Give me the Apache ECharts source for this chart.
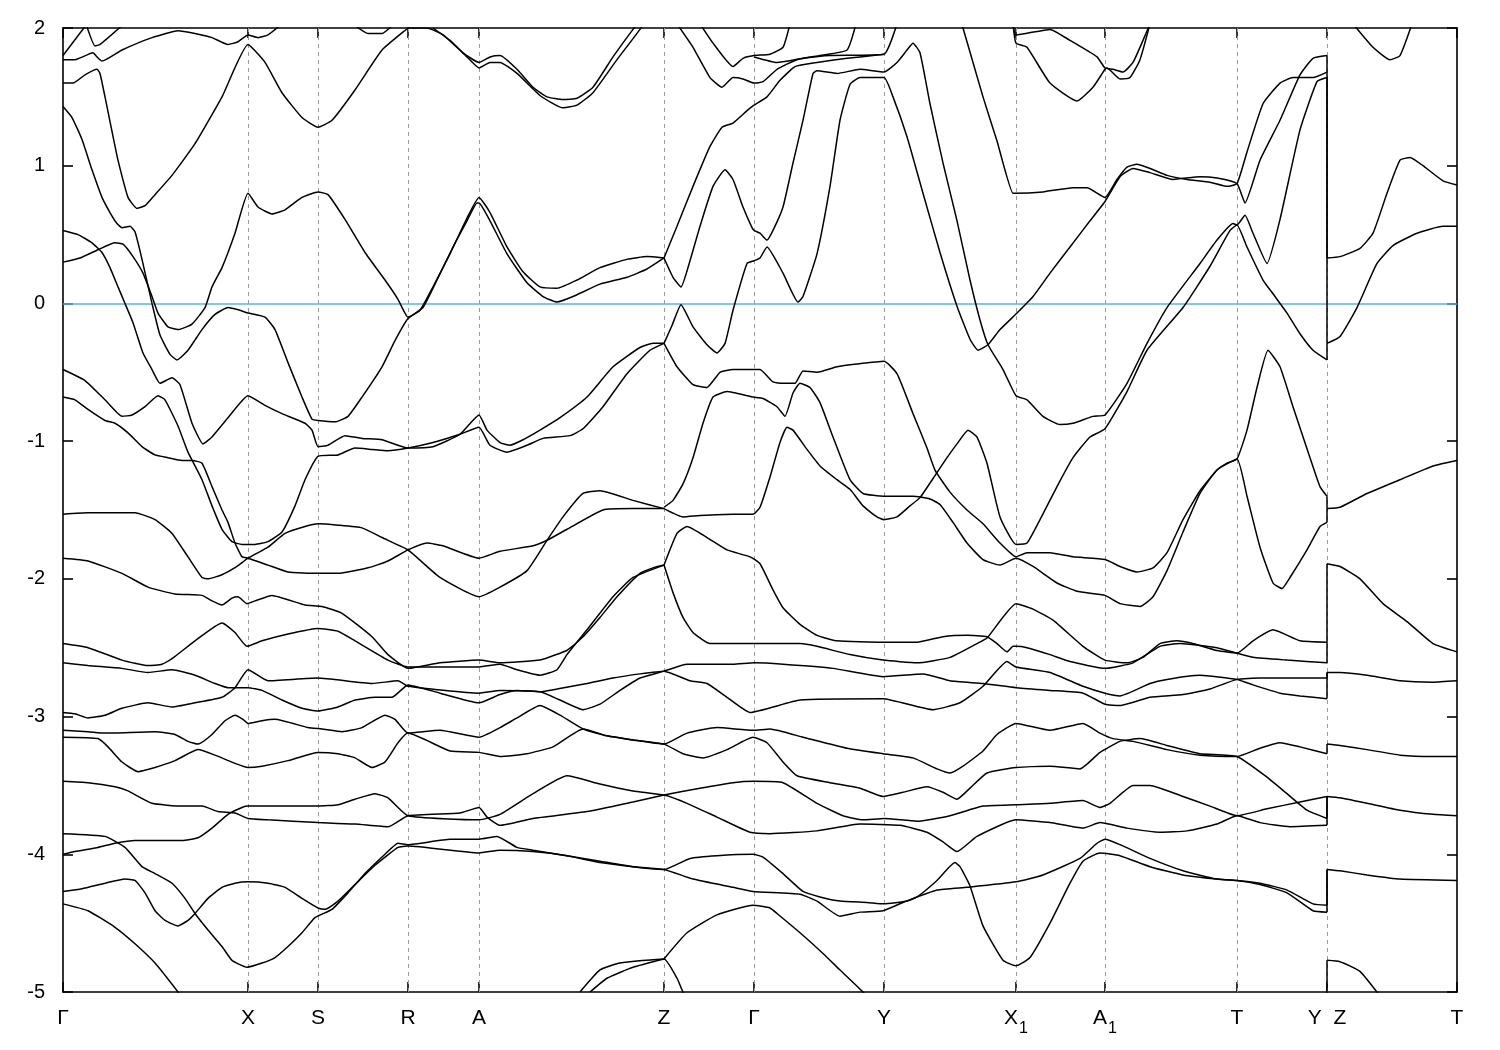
<!DOCTYPE html>
<html><head><meta charset="utf-8">
<script src="https://cdn.jsdelivr.net/npm/echarts@6/dist/echarts.min.js"></script>
<style>html,body{margin:0;padding:0;background:#fff}#c{width:1500px;height:1050px}</style>
</head><body><div id="c"></div>
<script>
// high-symmetry path positions (path length, arb. units) and labels
const kTicks = [0, 1.85, 2.55, 3.45, 4.16, 6.01, 6.91, 8.21, 9.53, 10.42, 11.74, 12.64, 13.94];
const kLabels = ['Γ', 'X', 'S', 'R', 'A', 'Z', 'Γ', 'Y', '{b|X}{s|1}', '{b|A}{s|1}', 'T', 'Y  Z', 'T'];
const eMin = -5, eMax = 2, eStep = 1;
const fermiLevel = 0;

// bands: [k, E (eV)]
const band01 = [[0,1.80],[0.24,2.03]];
const band02 = [[0.23,2.03],[0.32,1.87],[0.37,1.88],[0.61,2.03]];
const band03 = [[0,1.77],[0.12,1.77],[0.30,1.82],[0.34,1.79],[0.39,1.76],[0.59,1.84],[0.89,1.93],[1.15,1.98],[1.32,1.96],[1.49,1.93],[1.65,1.88],[1.75,1.90],[1.85,1.95],[1.95,1.93],[2.05,1.95],[2.19,2.03]];
const band04 = [[0,1.60],[0.10,1.60],[0.22,1.66],[0.34,1.70],[0.37,1.67],[0.42,1.50],[0.55,1.04],[0.65,0.77],[0.74,0.69],[0.82,0.71],[0.92,0.79],[1.09,0.93],[1.32,1.16],[1.59,1.50],[1.85,1.88],[2.02,1.75],[2.19,1.53],[2.39,1.35],[2.55,1.28],[2.69,1.33],[2.92,1.55],[3.19,1.84],[3.45,2.00],[3.50,2.03]];
const band05 = [[2.90,2.03],[3.05,1.96],[3.19,1.96],[3.31,2.03]];
const band06 = [[0,1.43],[0.09,1.35],[0.19,1.19],[0.29,0.97],[0.39,0.77],[0.47,0.66],[0.54,0.58],[0.59,0.55],[0.67,0.56],[0.72,0.52],[0.79,0.32],[0.89,0.00],[0.97,-0.23],[1.07,-0.37],[1.14,-0.41],[1.25,-0.34],[1.39,-0.19],[1.52,-0.08],[1.65,-0.03],[1.77,-0.05],[1.85,-0.07],[2.02,-0.10],[2.12,-0.19],[2.25,-0.43],[2.39,-0.68],[2.49,-0.84],[2.55,-0.85],[2.72,-0.86],[2.85,-0.82],[2.99,-0.68],[3.19,-0.46],[3.32,-0.27],[3.45,-0.11],[3.60,-0.03],[3.74,0.17],[3.90,0.41],[4.04,0.60],[4.14,0.73],[4.16,0.73],[4.27,0.60],[4.44,0.36],[4.64,0.15],[4.80,0.05],[4.94,0.01],[5.10,0.05],[5.37,0.14],[5.64,0.19],[5.84,0.25],[6.01,0.33]];
const band07 = [[0,0.30],[0.17,0.33],[0.35,0.39],[0.52,0.44],[0.60,0.43],[0.70,0.34],[0.80,0.22],[0.89,0.05],[0.95,-0.07],[1.05,-0.17],[1.15,-0.19],[1.29,-0.15],[1.42,-0.03],[1.49,0.12],[1.59,0.26],[1.72,0.51],[1.85,0.80],[1.95,0.70],[2.09,0.65],[2.22,0.68],[2.39,0.77],[2.55,0.81],[2.65,0.79],[2.82,0.61],[3.02,0.37],[3.22,0.17],[3.35,0.03],[3.45,-0.10],[3.57,-0.05],[3.70,0.12],[3.87,0.36],[4.04,0.62],[4.16,0.77],[4.27,0.66],[4.44,0.41],[4.60,0.23],[4.77,0.12],[4.94,0.11],[5.14,0.17],[5.37,0.26],[5.64,0.32],[5.84,0.34],[6.01,0.33]];
const band08 = [[0,0.53],[0.15,0.50],[0.29,0.44],[0.39,0.37],[0.47,0.26],[0.55,0.12],[0.62,0.00],[0.70,-0.14],[0.80,-0.36],[0.89,-0.48],[0.97,-0.58],[1.09,-0.54],[1.17,-0.59],[1.29,-0.87],[1.40,-1.02],[1.49,-0.97],[1.65,-0.83],[1.85,-0.67],[2.02,-0.74],[2.19,-0.80],[2.42,-0.87],[2.49,-0.92],[2.55,-1.04],[2.65,-1.03],[2.82,-0.96],[2.99,-0.98],[3.19,-0.99],[3.45,-1.05],[3.70,-1.04],[3.97,-0.95],[4.16,-0.81],[4.24,-0.92],[4.37,-1.01],[4.47,-1.03],[4.60,-0.99],[4.77,-0.92],[4.97,-0.83],[5.24,-0.68],[5.50,-0.46],[5.77,-0.32],[5.90,-0.29],[6.01,-0.29]];
const band09 = [[0,-0.48],[0.22,-0.56],[0.42,-0.70],[0.59,-0.82],[0.69,-0.81],[0.82,-0.75],[0.95,-0.67],[1.02,-0.70],[1.15,-0.89],[1.25,-1.08],[1.39,-1.28],[1.49,-1.47],[1.59,-1.64],[1.69,-1.73],[1.79,-1.75],[1.92,-1.75],[2.05,-1.73],[2.19,-1.66],[2.32,-1.47],[2.42,-1.28],[2.55,-1.11],[2.75,-1.10],[2.92,-1.05],[3.09,-1.06],[3.25,-1.07],[3.45,-1.05],[3.70,-1.01],[3.97,-0.95],[4.16,-0.90],[4.27,-1.03],[4.44,-1.08],[4.64,-1.03],[4.80,-0.98],[5.07,-0.96],[5.20,-0.91],[5.40,-0.75],[5.64,-0.51],[5.87,-0.34],[6.01,-0.29]];
const band10 = [[0,-0.68],[0.12,-0.70],[0.25,-0.77],[0.42,-0.85],[0.52,-0.87],[0.65,-0.94],[0.79,-1.04],[0.92,-1.10],[1.05,-1.12],[1.19,-1.14],[1.29,-1.14],[1.39,-1.16],[1.49,-1.33],[1.59,-1.50],[1.65,-1.59],[1.72,-1.74],[1.79,-1.84],[1.85,-1.85],[2.05,-1.90],[2.25,-1.95],[2.55,-1.96],[2.75,-1.96],[3.05,-1.92],[3.25,-1.87],[3.45,-1.79],[3.64,-1.74],[3.80,-1.76],[4.16,-1.85],[4.37,-1.80],[4.70,-1.76],[4.84,-1.72],[5.04,-1.64],[5.40,-1.50],[5.70,-1.49],[6.01,-1.49]];
const band11 = [[0,-1.53],[0.25,-1.52],[0.72,-1.52],[0.92,-1.57],[1.09,-1.67],[1.25,-1.84],[1.39,-1.99],[1.45,-2.00],[1.59,-1.97],[1.74,-1.91],[1.85,-1.85],[2.05,-1.77],[2.22,-1.67],[2.42,-1.62],[2.55,-1.60],[2.75,-1.61],[2.99,-1.63],[3.19,-1.70],[3.45,-1.79],[3.77,-1.99],[4.16,-2.13],[4.37,-2.06],[4.64,-1.94],[4.84,-1.72],[5.00,-1.55],[5.20,-1.38],[5.37,-1.36],[5.70,-1.43],[6.01,-1.49]];
const band12 = [[0,-1.85],[0.25,-1.87],[0.59,-1.96],[0.85,-2.06],[1.12,-2.11],[1.39,-2.12],[1.49,-2.16],[1.59,-2.19],[1.69,-2.14],[1.75,-2.13],[1.84,-2.18],[1.92,-2.16],[2.09,-2.12],[2.42,-2.19],[2.59,-2.20],[2.79,-2.25],[3.09,-2.42],[3.25,-2.55],[3.45,-2.65],[3.77,-2.61],[4.16,-2.59],[4.37,-2.61],[4.77,-2.59],[4.97,-2.54],[5.04,-2.52],[5.20,-2.42],[5.37,-2.28],[5.54,-2.13],[5.77,-1.96],[5.90,-1.92],[6.01,-1.90]];
const band13 = [[0,-2.47],[0.25,-2.50],[0.59,-2.59],[0.85,-2.63],[0.99,-2.62],[1.09,-2.58],[1.32,-2.45],[1.59,-2.32],[1.72,-2.39],[1.84,-2.49],[1.99,-2.45],[2.25,-2.40],[2.55,-2.36],[2.75,-2.38],[2.92,-2.45],[3.25,-2.59],[3.45,-2.64],[4.16,-2.64],[4.37,-2.62],[4.54,-2.66],[4.77,-2.70],[4.94,-2.66],[5.04,-2.55],[5.24,-2.37],[5.50,-2.13],[5.70,-1.99],[6.01,-1.90]];
const band14 = [[0,-2.61],[0.25,-2.63],[0.59,-2.65],[0.85,-2.68],[1.09,-2.66],[1.32,-2.70],[1.52,-2.76],[1.65,-2.79],[1.85,-2.79],[1.99,-2.81],[2.19,-2.88],[2.39,-2.94],[2.55,-2.96],[2.75,-2.93],[2.92,-2.88],[3.12,-2.86],[3.29,-2.86],[3.45,-2.77],[3.77,-2.83],[4.16,-2.90],[4.37,-2.84],[4.54,-2.81],[4.77,-2.82],[4.94,-2.80],[5.24,-2.76],[5.50,-2.72],[5.77,-2.69],[6.01,-2.67],[6.27,-2.74],[6.44,-2.76],[6.64,-2.86],[6.87,-2.97],[7.37,-2.88],[8.20,-2.87],[8.70,-2.95],[8.97,-2.90],[9.20,-2.78],[9.44,-2.60],[9.53,-2.64],[9.87,-2.68],[10.20,-2.78],[10.42,-2.83],[10.57,-2.85],[10.87,-2.76],[11.04,-2.73],[11.37,-2.70],[11.74,-2.73],[11.90,-2.77],[12.17,-2.83],[12.37,-2.85],[12.64,-2.87],[12.64,-2.68],[12.77,-2.68],[13.04,-2.70],[13.37,-2.74],[13.70,-2.75],[13.94,-2.74]];
const band15 = [[0,-2.97],[0.12,-2.98],[0.25,-3.01],[0.42,-2.99],[0.59,-2.94],[0.85,-2.90],[1.09,-2.93],[1.32,-2.90],[1.59,-2.86],[1.72,-2.79],[1.85,-2.66],[2.05,-2.74],[2.55,-2.72],[3.09,-2.76],[3.35,-2.74],[3.45,-2.78],[4.16,-2.83],[4.37,-2.81],[4.77,-2.82],[4.97,-2.88],[5.20,-2.95],[5.37,-2.91],[5.57,-2.81],[5.77,-2.72],[6.01,-2.67],[6.24,-2.62],[6.70,-2.62],[6.91,-2.61],[7.20,-2.62],[7.70,-2.65],[8.20,-2.71],[8.60,-2.69],[8.87,-2.74],[9.20,-2.76],[9.53,-2.79],[9.87,-2.81],[10.20,-2.83],[10.42,-2.91],[10.57,-2.92],[10.87,-2.86],[11.20,-2.84],[11.47,-2.80],[11.74,-2.73],[11.97,-2.72],[12.37,-2.72],[12.64,-2.72],[12.64,-2.68]];
const band16 = [[0,-3.10],[0.25,-3.11],[0.42,-3.12],[0.92,-3.11],[1.12,-3.13],[1.25,-3.18],[1.35,-3.20],[1.49,-3.13],[1.62,-3.03],[1.72,-2.99],[1.80,-3.02],[1.85,-3.05],[1.99,-3.03],[2.12,-3.02],[2.45,-3.08],[2.59,-3.09],[2.79,-3.11],[2.99,-3.08],[3.22,-2.99],[3.32,-3.02],[3.45,-3.12],[3.77,-3.10],[4.16,-3.15],[4.37,-3.08],[4.54,-3.01],[4.77,-2.92],[4.97,-2.99],[5.20,-3.09],[5.44,-3.14],[5.70,-3.17],[6.01,-3.20],[6.24,-3.12],[6.54,-3.08],[6.90,-3.10],[7.07,-3.09],[7.40,-3.15],[7.84,-3.23],[8.20,-3.27],[8.50,-3.30],[8.74,-3.38],[8.87,-3.41],[9.00,-3.36],[9.20,-3.25],[9.34,-3.13],[9.53,-3.05],[9.87,-3.10],[10.20,-3.05],[10.37,-3.12],[10.50,-3.16],[10.70,-3.18],[11.04,-3.24],[11.37,-3.28],[11.74,-3.29],[11.97,-3.23],[12.17,-3.19],[12.37,-3.22],[12.64,-3.27],[12.64,-3.20],[12.77,-3.21],[13.04,-3.24],[13.37,-3.28],[13.70,-3.29],[13.94,-3.29]];
const band17 = [[0,-3.15],[0.35,-3.16],[0.45,-3.22],[0.59,-3.33],[0.75,-3.40],[0.92,-3.37],[1.12,-3.32],[1.35,-3.24],[1.52,-3.28],[1.72,-3.34],[1.85,-3.37],[1.99,-3.36],[2.25,-3.32],[2.55,-3.26],[2.75,-3.27],[2.92,-3.30],[3.09,-3.37],[3.22,-3.33],[3.35,-3.19],[3.45,-3.12],[3.87,-3.25],[4.16,-3.26],[4.37,-3.29],[4.64,-3.27],[4.90,-3.22],[5.20,-3.09],[5.44,-3.14],[5.70,-3.17],[6.01,-3.20],[6.20,-3.27],[6.40,-3.30],[6.64,-3.24],[6.90,-3.15],[7.04,-3.19],[7.20,-3.33],[7.34,-3.43],[7.67,-3.48],[7.97,-3.52],[8.20,-3.58],[8.40,-3.55],[8.64,-3.51],[8.80,-3.55],[8.94,-3.60],[9.07,-3.52],[9.24,-3.41],[9.53,-3.37],[9.87,-3.36],[10.17,-3.38],[10.37,-3.26],[10.57,-3.18],[10.77,-3.16],[11.04,-3.21],[11.37,-3.27],[11.74,-3.29],[12.04,-3.44],[12.24,-3.56],[12.44,-3.68],[12.64,-3.74],[12.64,-3.58],[12.77,-3.59],[13.04,-3.63],[13.37,-3.68],[13.70,-3.71],[13.94,-3.72]];
const band18 = [[0,-3.47],[0.25,-3.48],[0.52,-3.51],[0.65,-3.54],[0.89,-3.63],[1.19,-3.65],[1.39,-3.65],[1.55,-3.69],[1.72,-3.70],[1.85,-3.74],[2.05,-3.75],[2.55,-3.77],[2.92,-3.78],[3.25,-3.80],[3.45,-3.72],[3.97,-3.70],[4.16,-3.66],[4.24,-3.73],[4.37,-3.79],[4.70,-3.74],[5.24,-3.69],[5.70,-3.62],[6.01,-3.57],[6.37,-3.52],[6.70,-3.48],[6.91,-3.47],[7.20,-3.48],[7.54,-3.63],[7.80,-3.72],[8.00,-3.75],[8.21,-3.74],[8.54,-3.76],[8.87,-3.72],[9.20,-3.65],[9.53,-3.64],[9.87,-3.63],[10.20,-3.61],[10.37,-3.66],[10.47,-3.63],[10.70,-3.50],[10.87,-3.50],[11.20,-3.58],[11.47,-3.65],[11.74,-3.72],[12.04,-3.67],[12.37,-3.62],[12.64,-3.58]];
const band19 = [[0,-4.00],[0.12,-3.98],[0.35,-3.95],[0.52,-3.92],[0.72,-3.90],[1.19,-3.90],[1.35,-3.88],[1.49,-3.81],[1.65,-3.71],[1.79,-3.66],[1.85,-3.65],[2.05,-3.65],[2.55,-3.65],[2.75,-3.64],[2.92,-3.60],[3.12,-3.56],[3.25,-3.59],[3.45,-3.72],[4.16,-3.75],[4.37,-3.71],[4.70,-3.56],[5.04,-3.43],[5.37,-3.49],[5.70,-3.54],[6.01,-3.57],[6.24,-3.63],[6.54,-3.73],[6.87,-3.84],[7.07,-3.85],[7.54,-3.83],[7.97,-3.78],[8.37,-3.79],[8.64,-3.84],[8.80,-3.91],[8.94,-3.98],[9.14,-3.87],[9.53,-3.75],[9.87,-3.77],[10.20,-3.81],[10.37,-3.77],[10.64,-3.81],[10.97,-3.84],[11.24,-3.83],[11.54,-3.78],[11.74,-3.72],[11.97,-3.77],[12.27,-3.80],[12.64,-3.79],[12.64,-3.58]];
const band20 = [[0,-3.85],[0.42,-3.87],[0.62,-3.95],[0.79,-4.09],[0.92,-4.14],[1.09,-4.21],[1.22,-4.32],[1.32,-4.43],[1.45,-4.55],[1.59,-4.67],[1.69,-4.77],[1.84,-4.82],[1.99,-4.79],[2.12,-4.75],[2.25,-4.67],[2.39,-4.57],[2.52,-4.46],[2.69,-4.40],[2.85,-4.28],[3.02,-4.14],[3.22,-4.00],[3.35,-3.92],[3.45,-3.93],[3.87,-3.89],[4.16,-3.89],[4.34,-3.87],[4.54,-3.95],[4.70,-3.97],[5.04,-4.01],[5.37,-4.05],[5.70,-4.09],[6.01,-4.11],[6.27,-4.03],[6.54,-4.01],[6.90,-4.00],[7.00,-4.02],[7.20,-4.14],[7.40,-4.27],[7.57,-4.31],[7.77,-4.34],[8.04,-4.35],[8.21,-4.36],[8.44,-4.34],[8.54,-4.31],[8.74,-4.19],[8.92,-4.06],[8.97,-4.09],[9.07,-4.23],[9.20,-4.52],[9.40,-4.77],[9.53,-4.81],[9.67,-4.75],[9.87,-4.50],[10.07,-4.21],[10.20,-4.05],[10.37,-3.99],[10.57,-4.01],[10.87,-4.09],[11.20,-4.15],[11.54,-4.18],[11.74,-4.19],[11.97,-4.22],[12.24,-4.28],[12.50,-4.41],[12.64,-4.42],[12.64,-4.11]];
const band21 = [[0,-4.27],[0.19,-4.25],[0.42,-4.21],[0.62,-4.18],[0.72,-4.19],[0.82,-4.28],[0.92,-4.41],[1.02,-4.48],[1.15,-4.52],[1.25,-4.48],[1.32,-4.43],[1.45,-4.32],[1.59,-4.24],[1.72,-4.21],[1.85,-4.20],[2.05,-4.21],[2.22,-4.24],[2.39,-4.32],[2.55,-4.39],[2.62,-4.40],[2.75,-4.34],[2.92,-4.22],[3.12,-4.08],[3.35,-3.95],[3.45,-3.94],[4.16,-3.99],[4.37,-3.97],[4.70,-3.98],[5.04,-4.01],[5.37,-4.06],[5.70,-4.09],[6.01,-4.11],[6.30,-4.18],[6.70,-4.24],[6.90,-4.27],[7.37,-4.29],[7.54,-4.34],[7.77,-4.45],[7.97,-4.42],[8.20,-4.41],[8.40,-4.35],[8.74,-4.26],[9.04,-4.24],[9.53,-4.20],[9.80,-4.15],[10.17,-4.03],[10.34,-3.92],[10.42,-3.89],[10.57,-3.93],[10.87,-4.03],[11.20,-4.12],[11.54,-4.18],[11.74,-4.19],[11.97,-4.21],[12.24,-4.26],[12.50,-4.36],[12.64,-4.37],[12.64,-4.11],[12.77,-4.12],[13.04,-4.15],[13.37,-4.18],[13.94,-4.19]];
const band22 = [[0,-4.36],[0.25,-4.41],[0.52,-4.53],[0.72,-4.65],[0.92,-4.79],[1.15,-5.00],[1.25,-5.10]];
const band23 = [[6.01,-4.76],[6.24,-4.57],[6.54,-4.44],[6.90,-4.37],[7.07,-4.39],[7.14,-4.43],[7.37,-4.57],[7.60,-4.72],[7.77,-4.84],[8.00,-5.00],[8.10,-5.08]];
const band24 = [[5.17,-5.00],[5.37,-4.84],[5.57,-4.79],[6.01,-4.76],[6.14,-4.90],[6.20,-5.00],[6.25,-5.05]];
const band25 = [[5.27,-5.00],[5.44,-4.90],[5.70,-4.82],[6.01,-4.76]];
const band26 = [[12.64,-5.10],[12.64,-4.77],[12.77,-4.78],[12.97,-4.85],[13.14,-5.00],[13.20,-5.05]];
const band27 = [[3.44,2.00],[3.64,2.00],[3.80,1.95],[4.00,1.82],[4.16,1.75],[4.27,1.79],[4.37,1.80],[4.54,1.70],[4.70,1.57],[4.84,1.50],[5.00,1.48],[5.14,1.49],[5.30,1.57],[5.50,1.79],[5.70,1.99],[5.75,2.03]];
const band28 = [[3.70,2.00],[3.87,1.91],[4.04,1.79],[4.16,1.71],[4.27,1.75],[4.37,1.75],[4.54,1.67],[4.77,1.51],[5.00,1.42],[5.14,1.44],[5.30,1.53],[5.54,1.77],[5.77,1.99],[5.80,2.03]];
const band29 = [[6.14,2.03],[6.30,1.86],[6.47,1.64],[6.59,1.57],[6.70,1.64],[6.80,1.63],[6.91,1.60],[7.00,1.61],[7.14,1.70],[7.34,1.77],[7.57,1.80],[7.84,1.84],[7.93,2.03]];
const band30 = [[6.37,2.03],[6.50,1.89],[6.70,1.72],[6.80,1.78],[6.91,1.80],[7.07,1.81],[7.20,1.86],[7.27,2.03]];
const band31 = [[6.91,1.79],[7.14,1.75],[7.40,1.78],[7.67,1.80],[8.21,1.81],[8.34,2.03]];
const band32 = [[6.01,0.33],[6.14,0.56],[6.30,0.85],[6.47,1.14],[6.59,1.28],[6.70,1.31],[6.84,1.40],[6.91,1.44],[7.04,1.50],[7.17,1.62],[7.32,1.72],[7.54,1.75],[7.84,1.78],[8.10,1.80],[8.21,1.81]];
const band33 = [[6.01,0.33],[6.10,0.19],[6.18,0.12],[6.27,0.31],[6.37,0.56],[6.50,0.85],[6.62,0.97],[6.70,0.90],[6.80,0.70],[6.89,0.55],[6.91,0.53],[6.97,0.51],[7.04,0.46],[7.10,0.53],[7.20,0.70],[7.30,1.02],[7.40,1.33],[7.50,1.67],[7.54,1.69],[7.74,1.67],[7.97,1.70],[8.21,1.68],[8.34,1.75],[8.44,1.84],[8.50,1.89],[8.57,1.82],[8.67,1.45],[8.80,1.02],[8.94,0.60],[9.07,0.17],[9.17,-0.12],[9.25,-0.30],[9.40,-0.48],[9.53,-0.67],[9.64,-0.70],[9.80,-0.82],[9.97,-0.88],[10.10,-0.87],[10.30,-0.82],[10.42,-0.81],[10.64,-0.58],[10.84,-0.29],[11.04,-0.03],[11.37,0.29],[11.54,0.46],[11.70,0.58],[11.74,0.57],[11.82,0.64],[11.90,0.51],[12.04,0.29],[12.17,0.61],[12.37,1.26],[12.54,1.61],[12.64,1.64],[12.64,-0.29],[12.77,-0.24],[12.94,-0.03],[13.14,0.29],[13.30,0.42],[13.54,0.51],[13.80,0.56],[13.94,0.56]];
const band34 = [[6.01,-0.29],[6.09,-0.16],[6.18,-0.01],[6.30,-0.17],[6.44,-0.30],[6.54,-0.36],[6.62,-0.29],[6.70,-0.05],[6.84,0.29],[6.91,0.31],[6.97,0.33],[7.04,0.41],[7.20,0.22],[7.35,0.01],[7.40,0.05],[7.54,0.36],[7.67,0.85],[7.77,1.33],[7.87,1.59],[7.97,1.64],[8.21,1.64],[8.30,1.50],[8.44,1.21],[8.60,0.80],[8.77,0.37],[8.94,-0.02],[9.07,-0.26],[9.15,-0.34],[9.25,-0.30],[9.37,-0.19],[9.54,-0.07],[9.70,0.05],[9.87,0.22],[10.07,0.41],[10.27,0.60],[10.42,0.74],[10.57,0.92],[10.70,0.98],[10.87,0.95],[11.10,0.90],[11.37,0.92],[11.54,0.91],[11.74,0.87],[11.82,0.73],[11.97,1.04],[12.17,1.33],[12.37,1.66],[12.50,1.78],[12.64,1.80],[12.64,0.33],[12.77,0.34],[12.97,0.40],[13.10,0.51],[13.24,0.80],[13.37,1.04],[13.47,1.06],[13.60,1.00],[13.80,0.89],[13.94,0.86]];
const band35 = [[8.98,2.03],[9.00,2.00],[9.20,1.50],[9.34,1.18],[9.50,0.80],[9.52,0.80],[9.80,0.81],[10.10,0.84],[10.24,0.84],[10.42,0.77],[10.54,0.90],[10.64,0.99],[10.74,1.01],[10.87,0.98],[11.04,0.93],[11.24,0.90],[11.47,0.88],[11.64,0.85],[11.74,0.87],[11.84,1.10],[12.00,1.45],[12.17,1.60],[12.30,1.64],[12.50,1.64],[12.64,1.68]];
const band36 = [[6.01,-1.49],[6.20,-1.55],[6.37,-1.54],[6.70,-1.53],[6.90,-1.53],[6.97,-1.48],[7.07,-1.26],[7.17,-1.01],[7.24,-0.90],[7.30,-0.92],[7.44,-1.06],[7.57,-1.18],[7.74,-1.28],[7.87,-1.35],[8.00,-1.47],[8.14,-1.55],[8.21,-1.57],[8.34,-1.55],[8.47,-1.47],[8.57,-1.41],[8.72,-1.25],[8.84,-1.12],[8.94,-1.02],[9.05,-0.92],[9.14,-0.97],[9.24,-1.16],[9.37,-1.55],[9.53,-1.75],[9.64,-1.74],[9.77,-1.57],[9.94,-1.33],[10.10,-1.12],[10.27,-0.97],[10.42,-0.91],[10.64,-0.64],[10.84,-0.34],[11.20,-0.03],[11.47,0.27],[11.67,0.53],[11.74,0.57],[11.84,0.41],[12.00,0.17],[12.10,0.07],[12.24,-0.07],[12.37,-0.22],[12.50,-0.34],[12.64,-0.41],[12.64,-0.29]];
const band37 = [[6.01,-1.48],[6.10,-1.43],[6.20,-1.31],[6.30,-1.12],[6.40,-0.87],[6.50,-0.68],[6.64,-0.64],[6.90,-0.68],[7.00,-0.69],[7.14,-0.75],[7.22,-0.82],[7.30,-0.65],[7.37,-0.58],[7.47,-0.61],[7.57,-0.72],[7.70,-0.97],[7.87,-1.28],[8.00,-1.38],[8.21,-1.40],[8.50,-1.40],[8.67,-1.42],[8.77,-1.46],[8.90,-1.59],[9.04,-1.74],[9.20,-1.86],[9.37,-1.90],[9.53,-1.85],[9.70,-1.91],[9.94,-2.03],[10.14,-2.09],[10.42,-2.12],[10.57,-2.18],[10.77,-2.20],[10.90,-2.13],[11.04,-1.94],[11.20,-1.66],[11.37,-1.38],[11.54,-1.21],[11.74,-1.13],[11.84,-1.40],[11.97,-1.77],[12.10,-2.03],[12.19,-2.07],[12.27,-1.99],[12.44,-1.79],[12.57,-1.62],[12.64,-1.59],[12.64,-1.49],[12.77,-1.48],[13.04,-1.38],[13.37,-1.28],[13.70,-1.18],[13.94,-1.14]];
const band38 = [[6.01,-0.29],[6.14,-0.46],[6.30,-0.59],[6.44,-0.61],[6.57,-0.50],[6.70,-0.48],[6.90,-0.48],[6.97,-0.48],[7.10,-0.57],[7.20,-0.58],[7.32,-0.58],[7.40,-0.49],[7.54,-0.50],[7.74,-0.46],[7.94,-0.44],[8.21,-0.42],[8.34,-0.51],[8.50,-0.80],[8.64,-1.05],[8.72,-1.21],[8.87,-1.37],[9.04,-1.50],[9.20,-1.60],[9.37,-1.74],[9.53,-1.84],[9.64,-1.81],[9.87,-1.81],[10.10,-1.84],[10.42,-1.86],[10.57,-1.91],[10.74,-1.95],[10.90,-1.92],[11.04,-1.81],[11.20,-1.57],[11.37,-1.36],[11.54,-1.21],[11.64,-1.16],[11.74,-1.13],[11.84,-0.92],[11.94,-0.61],[12.05,-0.34],[12.17,-0.46],[12.30,-0.75],[12.47,-1.12],[12.57,-1.33],[12.64,-1.40],[12.64,-1.49]];
const band39 = [[6.01,-1.90],[6.14,-1.67],[6.24,-1.62],[6.44,-1.70],[6.64,-1.79],[6.87,-1.84],[6.97,-1.89],[7.10,-2.08],[7.20,-2.21],[7.37,-2.33],[7.54,-2.41],[7.74,-2.45],[8.20,-2.46],[8.54,-2.46],[8.80,-2.42],[9.04,-2.41],[9.24,-2.42],[9.34,-2.47],[9.44,-2.53],[9.50,-2.49],[9.53,-2.49],[9.64,-2.50],[9.87,-2.55],[10.07,-2.60],[10.42,-2.65],[10.70,-2.61],[10.97,-2.49],[11.17,-2.47],[11.54,-2.50],[11.74,-2.54],[11.90,-2.57],[12.24,-2.59],[12.64,-2.61],[12.64,-1.89],[12.77,-1.91],[12.97,-2.00],[13.20,-2.18],[13.44,-2.31],[13.70,-2.47],[13.94,-2.53]];
const band40 = [[6.01,-1.90],[6.10,-2.10],[6.20,-2.28],[6.30,-2.39],[6.47,-2.47],[6.70,-2.47],[6.91,-2.47],[7.37,-2.47],[7.54,-2.49],[7.87,-2.55],[8.20,-2.59],[8.54,-2.61],[8.87,-2.57],[9.14,-2.47],[9.24,-2.43],[9.53,-2.18],[9.70,-2.22],[9.90,-2.30],[10.20,-2.49],[10.42,-2.59],[10.64,-2.61],[10.80,-2.57],[10.97,-2.47],[11.14,-2.45],[11.30,-2.47],[11.54,-2.52],[11.74,-2.54],[11.90,-2.45],[12.10,-2.37],[12.37,-2.45],[12.64,-2.46]];
const band41 = [[12.90,2.03],[13.10,1.86],[13.27,1.77],[13.37,1.80],[13.49,2.03]];
const band42 = [[9.50,2.03],[9.53,1.95],[9.87,1.99],[10.07,1.91],[10.34,1.79],[10.42,1.71],[10.50,1.70],[10.60,1.68],[10.70,1.75],[10.80,1.91],[10.87,2.03]];
const band43 = [[9.50,2.03],[9.53,1.89],[9.64,1.86],[9.87,1.60],[10.14,1.47],[10.30,1.57],[10.42,1.70],[10.44,1.71],[10.57,1.63],[10.67,1.64],[10.77,1.77],[10.87,2.03]];

const bands = [band01,band02,band03,band04,band05,band06,band07,band08,band09,band10,
  band11,band12,band13,band14,band15,band16,band17,band18,band19,band20,
  band21,band22,band23,band24,band25,band26,band27,band28,band29,band30,
  band31,band32,band33,band34,band35,band36,band37,band38,band39,band40,
  band41,band42,band43];

// split each band at path discontinuities (two points with the same k): the jump becomes its own straight piece
function splitBand(b) {
  const parts = [];
  let cur = [b[0]];
  for (let i = 1; i < b.length; i++) {
    if (b[i][0] === b[i - 1][0]) {
      parts.push(cur);
      parts.push([b[i - 1], b[i]]);
      cur = [b[i]];
    } else {
      cur.push(b[i]);
    }
  }
  parts.push(cur);
  return parts.filter(p => p.length > 1);
}

const FONT = 'Liberation Sans, Arial, Helvetica, sans-serif';
const chart = echarts.init(document.getElementById('c'), null, {renderer: 'canvas'});

const series = [];
bands.forEach(b => splitBand(b).forEach(p => series.push({
  type: 'line', data: p, showSymbol: false, symbol: 'none', silent: true,
  smooth: p.length > 2 ? 0.15 : false,
  lineStyle: {color: '#000', width: 1.5}, z: 5, animation: false, clip: true
})));
series.push({
  type: 'line', data: [[0, -10]], showSymbol: false, symbol: 'none', silent: true, z: 1, animation: false,
  lineStyle: {width: 0},
  markLine: {
    silent: true, symbol: ['none', 'none'], label: {show: false}, animation: false,
    lineStyle: {color: '#9a9a9a', type: [4, 4], width: 1},
    data: kTicks.slice(1, -1).map(k => ({xAxis: k}))
  }
});
series.push({
  type: 'line', data: [[0, -10]], showSymbol: false, symbol: 'none', silent: true, z: 2, animation: false,
  lineStyle: {width: 0},
  markLine: {
    silent: true, symbol: ['none', 'none'], label: {show: false}, animation: false,
    lineStyle: {color: '#56b4e9', type: 'solid', width: 1.6},
    data: [{yAxis: fermiLevel}]
  }
});

function kLabel(v) {
  const i = kTicks.findIndex(t => Math.abs(t - v) < 1e-6);
  return i >= 0 ? kLabels[i] : '';
}

const axisLineStyle = {color: '#000', width: 1.6};
chart.setOption({
  animation: false,
  backgroundColor: '#fff',
  grid: {left: 63, right: 43, top: 28, bottom: 58, containLabel: false},
  xAxis: [{
    type: 'value', min: kTicks[0], max: kTicks[kTicks.length - 1], position: 'bottom',
    axisLine: {show: true, lineStyle: axisLineStyle, onZero: false},
    axisTick: {show: true, inside: true, length: 10, customValues: kTicks, lineStyle: axisLineStyle},
    axisLabel: {
      show: true, customValues: kTicks, showMinLabel: true, showMaxLabel: true,
      formatter: kLabel, fontSize: 21, fontFamily: FONT, color: '#000', margin: 16,
      rich: {
        b: {fontSize: 21, fontFamily: FONT, color: '#000', padding: [0, 0, 8, 0]},
        s: {fontSize: 16, fontFamily: FONT, color: '#000', padding: [13, 0, 0, 1]}
      }
    },
    splitLine: {show: false}
  }, {
    type: 'value', min: kTicks[0], max: kTicks[kTicks.length - 1], position: 'top',
    axisLine: {show: true, lineStyle: axisLineStyle, onZero: false},
    axisTick: {show: true, inside: true, length: 10, customValues: kTicks, lineStyle: axisLineStyle},
    axisLabel: {show: false}, splitLine: {show: false}
  }],
  yAxis: [{
    type: 'value', min: eMin, max: eMax, interval: eStep, position: 'left',
    axisLine: {show: true, lineStyle: axisLineStyle, onZero: false},
    axisTick: {show: true, inside: true, length: 10, lineStyle: axisLineStyle},
    axisLabel: {fontSize: 20, fontFamily: FONT, color: '#000', margin: 18},
    splitLine: {show: false}
  }, {
    type: 'value', min: eMin, max: eMax, interval: eStep, position: 'right',
    axisLine: {show: true, lineStyle: axisLineStyle, onZero: false},
    axisTick: {show: true, inside: true, length: 10, lineStyle: axisLineStyle},
    axisLabel: {show: false}, splitLine: {show: false}
  }],
  series: series
});
</script>
</body></html>
